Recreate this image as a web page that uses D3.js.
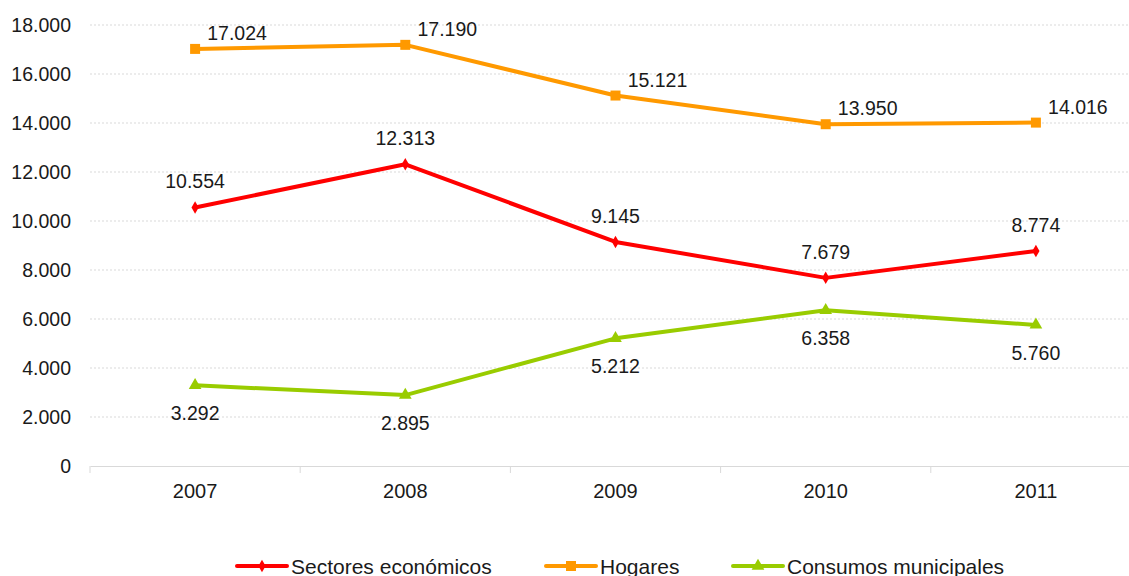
<!DOCTYPE html>
<html>
<head>
<meta charset="utf-8">
<script src="https://cdn.jsdelivr.net/npm/d3@7"></script>
<style>
  body { margin: 0; background: #fff; }
  text { font-family: "Liberation Sans", Arial, sans-serif; fill: #1a1a1a; }
</style>
</head>
<body>
<div id="chart"></div>
<script>
// Data
const years = ["2007", "2008", "2009", "2010", "2011"];
const sectores = [10554, 12313, 9145, 7679, 8774];
const hogares = [17024, 17190, 15121, 13950, 14016];
const consumos = [3292, 2895, 5212, 6358, 5760];
const yTicks = [0, 2000, 4000, 6000, 8000, 10000, 12000, 14000, 16000, 18000];

const series = [
    { name: "Sectores económicos", values: sectores, color: "#ff0000", symbol: d3.symbolDiamond, size: 45, labelDx: 0, labelDy: -26 },
    { name: "Hogares", values: hogares, color: "#ff9900", symbol: d3.symbolSquare, size: 100, labelDx: 42, labelDy: -16 },
    { name: "Consumos municipales", values: consumos, color: "#99cc00", symbol: d3.symbolTriangle, size: 70, labelDx: 0, labelDy: 28 }
];

const W = 1129, H = 576;
const margin = { top: 25, right: -12, bottom: 110, left: 90 },
      width = W - margin.left - margin.right,
      height = H - margin.top - margin.bottom;

const fmt = v => d3.format(",")(v).replace(/,/g, ".");

const svg = d3.select("#chart")
    .append("svg")
    .attr("width", W)
    .attr("height", H)
    .append("g")
    .attr("transform", `translate(${margin.left},${margin.top})`);

const x = d3.scaleBand()
    .domain(years)
    .range([0, width]);

const y = d3.scaleLinear()
    .domain([0, 18000])
    .range([height, 0]);

// dotted gridlines
svg.append("g")
    .selectAll("line")
    .data(yTicks.filter(t => t > 0))
    .enter()
    .append("line")
    .attr("x1", 0).attr("x2", width)
    .attr("y1", d => y(d)).attr("y2", d => y(d))
    .attr("stroke", "#d9d9d9")
    .attr("stroke-dasharray", "2,2");

// y-axis labels
const yAxis = svg.append("g")
    .call(d3.axisLeft(y).tickValues(yTicks).tickFormat(fmt).tickSize(0).tickPadding(19));
yAxis.select(".domain").remove();
yAxis.selectAll("text").style("font-size", "19.5px").attr("fill", "#1a1a1a");

// x-axis
const xAxis = svg.append("g")
    .attr("transform", `translate(0, ${height})`)
    .call(d3.axisBottom(x).tickSize(0).tickPadding(18));
xAxis.select(".domain").attr("stroke", "#d9d9d9");
xAxis.selectAll("text").style("font-size", "20px").attr("fill", "#1a1a1a");

// category boundary ticks
svg.append("g")
    .selectAll("line")
    .data(years)
    .enter()
    .append("line")
    .attr("x1", d => x(d)).attr("x2", d => x(d))
    .attr("y1", height).attr("y2", height + 7)
    .attr("stroke", "#d9d9d9");

const line = d3.line()
    .x((d, i) => x(years[i]) + x.bandwidth() / 2)
    .y(d => y(d));

series.forEach(s => {
    svg.append("path")
        .datum(s.values)
        .attr("fill", "none")
        .attr("stroke", s.color)
        .attr("stroke-width", 4)
        .attr("stroke-linejoin", "round")
        .attr("d", line);

    svg.selectAll(null)
        .data(s.values)
        .enter()
        .append("path")
        .attr("d", d3.symbol().type(s.symbol).size(s.size))
        .attr("transform", (d, i) => `translate(${x(years[i]) + x.bandwidth() / 2},${y(d)})`)
        .attr("fill", s.color);

    svg.selectAll(null)
        .data(s.values)
        .enter()
        .append("text")
        .attr("x", (d, i) => x(years[i]) + x.bandwidth() / 2 + s.labelDx)
        .attr("y", d => y(d) + s.labelDy)
        .attr("text-anchor", "middle")
        .attr("dominant-baseline", "central")
        .style("font-size", "19.5px")
        .text(d => fmt(d));
});

// legend
const legendX = [237, 546, 733];
const legend = d3.select("svg").append("g")
    .attr("transform", `translate(0, 566)`);

series.forEach((s, i) => {
    const g = legend.append("g").attr("transform", `translate(${legendX[i]}, 0)`);
    g.append("line")
        .attr("x1", 0).attr("x2", 50)
        .attr("stroke", s.color)
        .attr("stroke-width", 4)
        .attr("stroke-linecap", "round");
    g.append("path")
        .attr("d", d3.symbol().type(s.symbol).size(s.size))
        .attr("transform", "translate(25,0)")
        .attr("fill", s.color);
    g.append("text")
        .attr("x", 54)
        .attr("dominant-baseline", "central")
        .style("font-size", "21px")
        .text(s.name);
});
</script>
</body>
</html>
